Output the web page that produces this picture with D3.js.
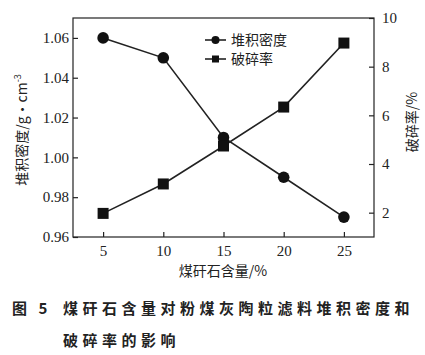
<!DOCTYPE html>
<html>
<head>
<meta charset="utf-8">
<script src="https://cdn.jsdelivr.net/npm/d3@7"></script>
<style>
  body { margin: 0; background: #fff; }
  svg { display: block; }
  .cjk { font-family: "Noto Sans CJK SC", sans-serif; fill: #222; }
  .tick text { font-family: "Liberation Serif", "DejaVu Serif", serif !important; font-size: 15px; }
</style>
</head>
<body>
<svg id="chart" width="425" height="355"></svg>
<script>
// data
const content = [5, 10, 15, 20, 25];               // 煤矸石含量 /%
const density = [1.06, 1.05, 1.01, 0.99, 0.97];   // 堆积密度 /g·cm^-3
const crush = [1.97, 3.18, 4.74, 6.34, 8.97];      // 破碎率 /%
const xTicks = [5, 10, 15, 20, 25];
const leftTicks = [0.96, 0.98, 1.00, 1.02, 1.04, 1.06];
const rightTicks = [2, 4, 6, 8, 10];

const plot = { left: 73, right: 374, top: 18, bottom: 237 };

const svg = d3.select('#chart');

const x = d3.scaleLinear().domain([2.5, 27.5]).range([plot.left, plot.right]);
const yL = d3.scaleLinear().domain([0.96, 1.07]).range([plot.bottom, plot.top]);
const yR = d3.scaleLinear().domain([1, 10]).range([plot.bottom, plot.top]);

// frame
svg.append('rect')
  .attr('x', plot.left).attr('y', plot.top)
  .attr('width', plot.right - plot.left).attr('height', plot.bottom - plot.top)
  .attr('fill', 'none').attr('stroke', '#222').attr('stroke-width', 1.2);

// axes, ticks pointing inward
const gx = svg.append('g').attr('transform', `translate(0,${plot.bottom})`)
  .call(d3.axisTop(x).tickValues(xTicks).tickSize(5).tickFormat(''));
const gxl = svg.append('g').attr('transform', `translate(0,${plot.bottom})`)
  .call(d3.axisBottom(x).tickValues(xTicks).tickSize(0).tickPadding(8).tickFormat(d3.format('d')));
const gl = svg.append('g').attr('transform', `translate(${plot.left},0)`)
  .call(d3.axisRight(yL).tickValues(leftTicks).tickSize(5).tickFormat(''));
const gll = svg.append('g').attr('transform', `translate(${plot.left},0)`)
  .call(d3.axisLeft(yL).tickValues(leftTicks).tickSize(0).tickPadding(4).tickFormat(d3.format('.2f')));
const gr = svg.append('g').attr('transform', `translate(${plot.right},0)`)
  .call(d3.axisLeft(yR).tickValues(rightTicks).tickSize(5).tickFormat(''));
const grl = svg.append('g').attr('transform', `translate(${plot.right},0)`)
  .call(d3.axisRight(yR).tickValues(rightTicks).tickSize(0).tickPadding(8).tickFormat(d3.format('d')));

[gx, gxl, gl, gll, gr, grl].forEach(g => {
  g.select('.domain').remove();
  g.attr('font-family', null).attr('font-size', null);
  g.selectAll('line').attr('stroke', '#222').attr('stroke-width', 1.2);
  g.selectAll('text').attr('fill', '#222');
});

// series lines
const lineL = d3.line().x((d, i) => x(content[i])).y(d => yL(d));
const lineR = d3.line().x((d, i) => x(content[i])).y(d => yR(d));

svg.append('path').datum(density).attr('d', lineL)
  .attr('fill', 'none').attr('stroke', '#222').attr('stroke-width', 1.6);
svg.append('path').datum(crush).attr('d', lineR)
  .attr('fill', 'none').attr('stroke', '#222').attr('stroke-width', 1.6);

svg.append('g').selectAll('circle').data(density).join('circle')
  .attr('cx', (d, i) => x(content[i])).attr('cy', d => yL(d))
  .attr('r', 5.8).attr('fill', '#111');

const sq = 11;
svg.append('g').selectAll('rect').data(crush).join('rect')
  .attr('x', (d, i) => x(content[i]) - sq / 2).attr('y', d => yR(d) - sq / 2)
  .attr('width', sq).attr('height', sq).attr('fill', '#111');

// legend
const legend = svg.append('g').attr('transform', 'translate(205,40)');
legend.append('line').attr('x1', 0).attr('x2', 21).attr('y1', 0).attr('y2', 0)
  .attr('stroke', '#222').attr('stroke-width', 1.6);
legend.append('circle').attr('cx', 10.5).attr('cy', 0).attr('r', 4).attr('fill', '#111');
legend.append('text').attr('class', 'cjk').attr('x', 26).attr('y', 5).attr('font-size', 14).text('堆积密度');
legend.append('line').attr('x1', 0).attr('x2', 21).attr('y1', 19).attr('y2', 19)
  .attr('stroke', '#222').attr('stroke-width', 1.6);
legend.append('rect').attr('x', 7).attr('y', 15.5).attr('width', 7).attr('height', 7).attr('fill', '#111');
legend.append('text').attr('class', 'cjk').attr('x', 26).attr('y', 24).attr('font-size', 14).text('破碎率');

// axis titles
const leftTitle = svg.append('text').attr('class', 'cjk').attr('font-size', 14)
  .attr('text-anchor', 'middle')
  .attr('transform', 'translate(27,130) rotate(-90)');
leftTitle.append('tspan').text('堆积密度/g·cm');
leftTitle.append('tspan').attr('dy', -6).attr('font-size', 9).text('-3');

svg.append('text').attr('class', 'cjk').attr('font-size', 14)
  .attr('text-anchor', 'middle')
  .attr('transform', 'translate(417,122) rotate(-90)')
  .text('破碎率/%');

svg.append('text').attr('class', 'cjk').attr('font-size', 14)
  .attr('text-anchor', 'middle').attr('x', 223).attr('y', 276)
  .text('煤矸石含量/%');

// caption
svg.append('text').attr('class', 'cjk').attr('font-size', 15).attr('font-weight', 'bold')
  .attr('x', 12).attr('y', 314).style('letter-spacing', '4px').text('图 5');
svg.append('text').attr('class', 'cjk').attr('font-size', 15).attr('font-weight', 'bold')
  .style('letter-spacing', '4.5px').attr('x', 63).attr('y', 314)
  .text('煤矸石含量对粉煤灰陶粒滤料堆积密度和');
svg.append('text').attr('class', 'cjk').attr('font-size', 15).attr('font-weight', 'bold')
  .style('letter-spacing', '4.5px').attr('x', 63).attr('y', 346)
  .text('破碎率的影响');
</script>
</body>
</html>
